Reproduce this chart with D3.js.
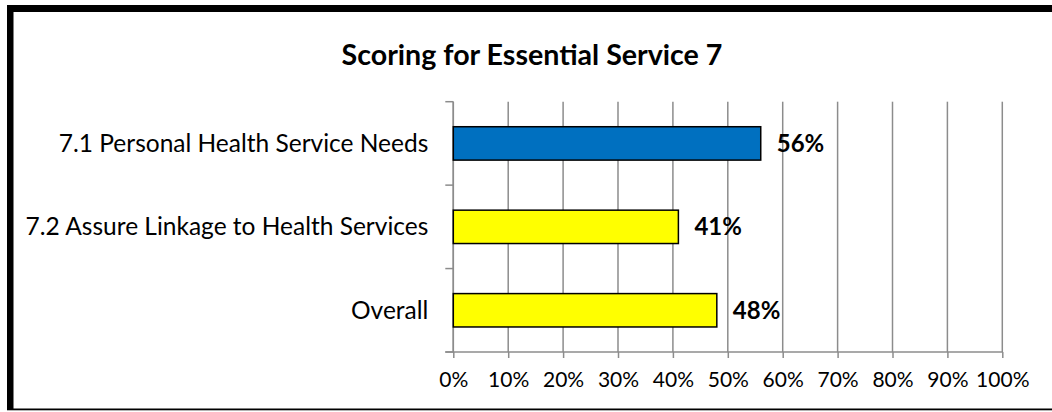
<!DOCTYPE html>
<html>
<head>
<meta charset="utf-8">
<script src="https://cdn.jsdelivr.net/npm/d3@7"></script>
<style>
  body { margin: 0; background: #fff; }
  svg text { font-family: Lato, "Open Sans", sans-serif; fill: #000; }
</style>
</head>
<body>
<div id="chart"></div>
<script>
// Data
var categories = ["7.1 Personal Health Service Needs", "7.2 Assure Linkage to Health Services", "Overall"];
var scores = [56, 41, 48];
var barColors = ["#0070C0", "#FFFF00", "#FFFF00"];
var tickValues = [0, 10, 20, 30, 40, 50, 60, 70, 80, 90, 100];
var title = "Scoring for Essential Service 7";

var svgWidth = 1052;
var svgHeight = 412;

var margin = { top: 101.7, right: 50, bottom: 60, left: 453.3 };
var width = 1002.3 - margin.left;
var height = 352 - margin.top;

var svg = d3.select("#chart")
  .append("svg")
  .attr("width", svgWidth)
  .attr("height", svgHeight);

// outer frame (thick top + left, thin bottom, right edge cut off)
svg.append("rect").attr("x", 7).attr("y", 5).attr("width", svgWidth - 7).attr("height", 7).attr("fill", "#000");
svg.append("rect").attr("x", 7).attr("y", 5).attr("width", 6.5).attr("height", 405).attr("fill", "#000");
svg.append("rect").attr("x", 7).attr("y", 408.5).attr("width", svgWidth - 7).attr("height", 1.8).attr("fill", "#000");

// title
svg.append("text")
  .attr("x", 532)
  .attr("y", 65)
  .attr("text-anchor", "middle")
  .style("font-size", "28.6px")
  .style("font-weight", "bold")
  .text(title);

var chartGroup = svg.append("g")
  .attr("transform", `translate(${margin.left}, ${margin.top})`);

var xScale = d3.scaleLinear()
  .domain([0, 100])
  .range([0, width]);

var yScale = d3.scaleBand()
  .domain(categories)
  .range([0, height])
  .paddingInner(0.6)
  .paddingOuter(0.3);

// vertical gridlines
chartGroup.append("g")
  .selectAll("line")
  .data(tickValues)
  .enter()
  .append("line")
  .attr("x1", d => xScale(d))
  .attr("x2", d => xScale(d))
  .attr("y1", 0)
  .attr("y2", height)
  .attr("stroke", "#8c8c8c")
  .attr("stroke-width", 1.5);

// x axis
var bottomAxis = d3.axisBottom(xScale)
  .tickValues(tickValues)
  .tickSize(6)
  .tickPadding(14)
  .tickFormat(d => d + "%");

var xAxis = chartGroup.append("g")
  .attr("transform", `translate(0, ${height})`)
  .call(bottomAxis);

xAxis.select(".domain").remove();
xAxis.append("line")
  .attr("x1", -8).attr("x2", width)
  .attr("y1", 0).attr("y2", 0)
  .attr("stroke", "#8c8c8c").attr("stroke-width", 1.5);
xAxis.selectAll(".tick line").attr("stroke", "#8c8c8c").attr("stroke-width", 1.5);
xAxis.selectAll(".tick text")
  .style("font-size", "21px")
  .style("font-family", "Lato, sans-serif")
  .attr("fill", "#000");

// y axis: vertical line plus ticks between the categories
var bounds = d3.range(categories.length + 1).map(i => i * height / categories.length);
chartGroup.append("line")
  .attr("x1", 0).attr("x2", 0)
  .attr("y1", 0).attr("y2", height)
  .attr("stroke", "#8c8c8c").attr("stroke-width", 1.5);
chartGroup.append("g")
  .selectAll("line")
  .data(bounds)
  .enter()
  .append("line")
  .attr("x1", -8).attr("x2", 0)
  .attr("y1", d => d).attr("y2", d => d)
  .attr("stroke", "#8c8c8c").attr("stroke-width", 1.5);

// category labels
chartGroup.append("g")
  .selectAll("text")
  .data(categories)
  .enter()
  .append("text")
  .attr("x", -25)
  .attr("y", d => yScale(d) + yScale.bandwidth() / 2)
  .attr("dy", "0.35em")
  .attr("text-anchor", "end")
  .style("font-size", "24.5px")
  .text(d => d);

// bars
chartGroup.append("g")
  .selectAll("rect")
  .data(scores)
  .enter()
  .append("rect")
  .attr("x", 0)
  .attr("y", (d, i) => yScale(categories[i]))
  .attr("width", d => xScale(d))
  .attr("height", yScale.bandwidth())
  .attr("fill", (d, i) => barColors[i])
  .attr("stroke", "#000")
  .attr("stroke-width", 1.5);

// value labels
chartGroup.append("g")
  .selectAll("text")
  .data(scores)
  .enter()
  .append("text")
  .attr("x", d => xScale(d) + 16)
  .attr("y", (d, i) => yScale(categories[i]) + yScale.bandwidth() / 2)
  .attr("dy", "0.35em")
  .style("font-size", "24px")
  .style("font-weight", "bold")
  .text(d => d + "%");
</script>
</body>
</html>
